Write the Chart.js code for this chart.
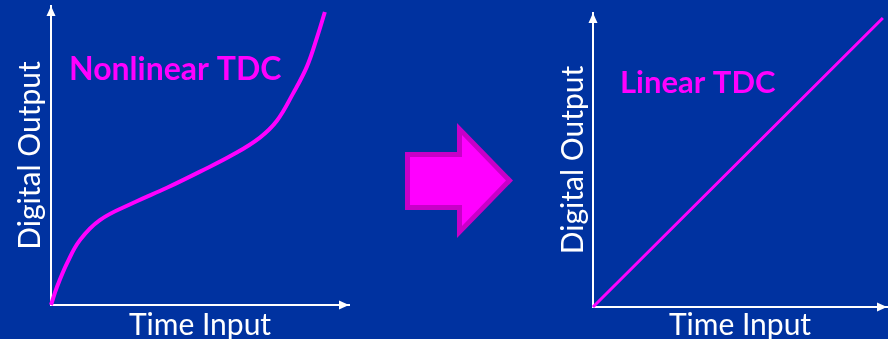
<!DOCTYPE html>
<html>
<head>
<meta charset="utf-8">
<script src="https://cdn.jsdelivr.net/npm/chart.js@4.4.1/dist/chart.umd.min.js"></script>
<style>
  html, body { margin:0; padding:0; width:888px; height:339px; overflow:hidden; background:#0032A0; }
  #c1 { position:absolute; left:0; top:0; }
  #c2 { position:absolute; left:540px; top:0; }
  #shape { position:absolute; left:0; top:0; }
</style>
</head>
<body>
<svg id="shape" width="888" height="339">
  <polygon points="405,152 457,152 457,123 513,180.5 457,238 457,210 405,210" fill="#C800C8"/>
  <polygon points="410,157 462,157 462,135 506,180.5 462,226 462,205 410,205" fill="#FF00FF"/>
</svg>
<canvas id="c1" width="360" height="345"></canvas>
<canvas id="c2" width="348" height="345"></canvas>
<script>
// ---- data ----
const xAxisTitle = 'Time Input';
const yAxisTitle = 'Digital Output';
const leftLabel = 'Nonlinear TDC';
const rightLabel = 'Linear TDC';

const nonlinearX = [0, 2.0, 5.4, 9.7, 16.4, 27.5, 38.9, 50.0, 61.1, 70.1, 75.8, 81.2, 85.9, 89.3, 91.9];
const nonlinearY = [0, 6.0, 14.0, 21.7, 28.4, 34.1, 39.2, 44.6, 50.3, 56.0, 61.6, 70.7, 79.8, 89.6, 98.0];

const linearX = [0, 98.6];
const linearY = [0, 98.3];

const WHITE = '#FFFFFF';
const MAGENTA = '#FF00FF';
const FONT = 'Lato';

const decor = {
  id: 'decor',
  afterDraw(chart, args, opts) {
    const { ctx, chartArea: a } = chart;
    ctx.save();
    ctx.fillStyle = WHITE;
    // y-axis arrowhead
    ctx.beginPath();
    ctx.moveTo(a.left, a.top);
    ctx.lineTo(a.left - 4.5, a.top + 10);
    ctx.lineTo(a.left + 4.5, a.top + 10);
    ctx.closePath();
    ctx.fill();
    // x-axis arrowhead
    ctx.beginPath();
    ctx.moveTo(a.right, a.bottom);
    ctx.lineTo(a.right - 10, a.bottom - 4.5);
    ctx.lineTo(a.right - 10, a.bottom + 4.5);
    ctx.closePath();
    ctx.fill();
    // chart label
    ctx.fillStyle = MAGENTA;
    ctx.font = opts.font;
    ctx.textAlign = 'left';
    ctx.textBaseline = 'alphabetic';
    ctx.fillText(opts.text, opts.x, opts.y);
    ctx.restore();
  }
};

function makeChart(id, xs, ys, lineWidth, pad, label) {
  const pts = xs.map((x, i) => ({ x: x, y: ys[i] }));
  return new Chart(document.getElementById(id), {
    type: 'line',
    data: { datasets: [{
      data: pts,
      borderColor: MAGENTA,
      borderWidth: lineWidth,
      pointRadius: 0,
      tension: 0.4,
      fill: false,
      clip: false
    }] },
    options: {
      responsive: false,
      animation: false,
      devicePixelRatio: 1,
      layout: { autoPadding: false, padding: { left: 0, top: pad.top, right: pad.right, bottom: 0 } },
      plugins: { legend: { display: false }, tooltip: { enabled: false }, decor: label },
      scales: {
        x: {
          type: 'linear', min: 0, max: 100,
          ticks: { display: false },
          grid: { display: false, drawTicks: false },
          border: { display: true, color: WHITE, width: 2 },
          title: { display: true, text: xAxisTitle, color: WHITE,
                   font: { family: FONT, size: 30, lineHeight: 1 },
                   padding: { top: pad.xt, bottom: 5 } }
        },
        y: {
          type: 'linear', min: 0, max: 100,
          ticks: { display: false },
          grid: { display: false, drawTicks: false },
          border: { display: true, color: WHITE, width: 2 },
          title: { display: true, text: yAxisTitle, color: WHITE,
                   font: { family: FONT, size: 30, lineHeight: 1 },
                   padding: { top: pad.yt, bottom: pad.yb } }
        }
      }
    },
    plugins: [decor]
  });
}

makeChart('c1', nonlinearX, nonlinearY, 4,
  { top: 6, right: 11, xt: 5, yt: 15, yb: 6 },
  { text: leftLabel, font: 'bold 32px ' + FONT, x: 69, y: 80 });
makeChart('c2', linearX, linearY, 3,
  { top: 13, right: 1, xt: 3, yt: 18, yb: 5 },
  { text: rightLabel, font: 'bold 31px ' + FONT, x: 80, y: 93 });
</script>
</body>
</html>
